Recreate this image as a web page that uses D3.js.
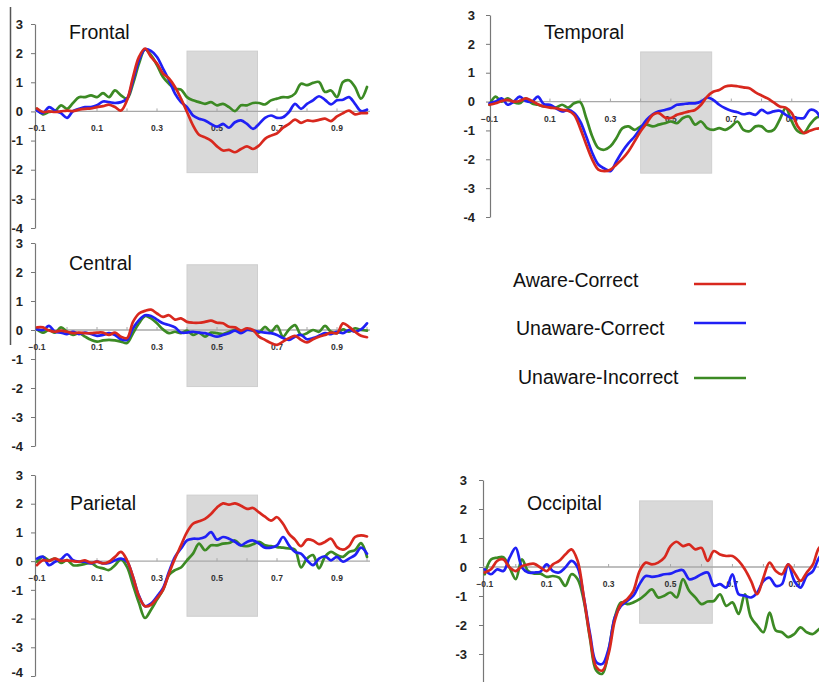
<!DOCTYPE html>
<html><head><meta charset="utf-8">
<script src="https://cdn.jsdelivr.net/npm/d3@7"></script>
<style>body{margin:0;background:#fff}svg{display:block}</style>
</head><body><svg id="c" width="819" height="682"></svg>
<script>
// ---------- data ----------
const times = [-0.1,-0.08,-0.06,-0.04,-0.02,0,0.02,0.04,0.06,0.08,
  0.1,0.12,0.14,0.16,0.18,0.2,0.22,0.24,0.26,0.28,
  0.3,0.32,0.34,0.36,0.38,0.4,0.42,0.44,0.46,0.48,
  0.5,0.52,0.54,0.56,0.58,0.6,0.62,0.64,0.66,0.68,
  0.7,0.72,0.74,0.76,0.78,0.8,0.82,0.84,0.86,0.88,
  0.9,0.92,0.94,0.96,0.98,1.0];
const seriesNames = ["Aware-Correct","Unaware-Correct","Unaware-Incorrect"];
const regionNames = ["Frontal","Temporal","Central","Parietal","Occipital"];
const yTickValues = [3,2,1,0,-1,-2,-3,-4];
const yTickValuesOccipital = [3,2,1,0,-1,-2,-3];
const xTickLabels = [-0.1,0.1,0.3,0.5,0.7,0.9];
const xTickMarks = [0,0.1,0.2,0.3,0.4,0.5,0.6,0.7,0.8,0.9,1.0];
const windowTimes = [0.4, 0.635];
const windowHigh = [2.07, 1.72, 2.25, 2.3, 2.28];
const windowLow  = [-2.1, -2.48, -1.95, -1.92, -1.94];

const frontalAC = [0.1,-0.02,0,-0.02,0,0.03,0.01,0.06,0.09,0.1,
  0.15,0.18,0.23,0.15,0.03,0.38,1.18,1.87,2.16,1.87,
  1.64,1.3,1.13,0.84,0.44,-0.02,-0.48,-0.8,-0.89,-1.0,
  -1.2,-1.34,-1.32,-1.4,-1.29,-1.2,-1.29,-1.17,-0.94,-0.83,
  -0.75,-0.56,-0.43,-0.28,-0.39,-0.31,-0.33,-0.29,-0.25,-0.33,
  -0.17,-0.06,0.03,-0.1,-0.06,-0.06];
const frontalUC = [0.03,-0.06,0.15,0.03,-0.06,-0.22,0.01,0.09,0.15,0.15,
  0.21,0.34,0.32,0.29,0.32,0.44,1.07,1.76,2.13,2.08,
  1.87,1.47,1.07,0.61,0.32,0.15,-0.14,-0.25,-0.31,-0.43,
  -0.52,-0.43,-0.56,-0.37,-0.31,-0.43,-0.6,-0.43,-0.22,-0.14,
  -0.22,-0.2,-0.02,0.26,0.09,0.26,0.38,0.52,0.4,0.24,
  0.38,0.4,0.49,0.26,0.01,0.06];
const frontalUI = [0.09,-0.1,-0.02,0.01,0.21,0.09,0.29,0.49,0.49,0.55,
  0.49,0.63,0.49,0.72,0.55,0.44,0.95,1.64,2.13,1.93,
  1.59,1.18,0.95,0.78,0.75,0.49,0.38,0.32,0.26,0.32,
  0.21,0.26,0.15,0.01,0.21,0.21,0.29,0.29,0.24,0.38,
  0.44,0.49,0.49,0.61,0.95,0.9,0.98,1.01,0.67,0.72,
  0.49,1.01,1.07,0.84,0.44,0.84];

const temporalAC = [-0.11,-0.06,0.02,0.06,0,0.02,0.11,0.02,-0.09,-0.17,
  -0.21,-0.23,-0.29,-0.32,-0.46,-0.92,-1.49,-2.01,-2.36,-2.41,
  -2.36,-2.18,-1.98,-1.72,-1.38,-1.03,-0.75,-0.46,-0.4,-0.55,
  -0.57,-0.46,-0.4,-0.34,-0.29,-0.11,0.17,0.34,0.4,0.52,
  0.55,0.53,0.49,0.46,0.32,0.21,0.11,-0.03,-0.17,-0.21,
  -0.4,-0.86,-1.09,-1.01,-0.94,-0.92];
const temporalUC = [-0.06,0,0.11,-0.11,0,0.17,0.02,0,0.17,-0.09,
  -0.11,-0.23,-0.34,-0.29,-0.4,-0.69,-1.21,-1.78,-2.18,-2.32,
  -2.41,-2.07,-1.72,-1.44,-1.21,-0.92,-0.63,-0.44,-0.34,-0.29,
  -0.23,-0.11,-0.09,-0.06,-0.06,0,0.14,0.06,-0.11,-0.23,
  -0.32,-0.37,-0.44,-0.4,-0.46,-0.29,-0.4,-0.34,-0.32,-0.46,
  -0.57,-0.57,-0.57,-0.29,-0.34,-0.69];
const temporalUI = [-0.11,0.17,0,0.11,-0.02,-0.06,0.11,-0.06,-0.11,-0.17,
  -0.17,-0.21,-0.11,-0.21,-0.06,-0.02,-0.57,-1.21,-1.61,-1.67,
  -1.55,-1.26,-0.92,-0.86,-0.98,-0.86,-0.8,-0.86,-0.8,-0.75,
  -0.69,-0.75,-0.57,-0.52,-0.8,-0.69,-0.92,-0.98,-0.92,-0.98,
  -0.86,-0.69,-0.98,-1.03,-0.86,-0.86,-1.03,-0.98,-0.63,-0.23,
  -0.69,-1.03,-1.09,-0.8,-0.57,-0.52];

const centralAC = [0.09,0.09,-0.02,-0.06,-0.02,-0.06,-0.11,-0.09,-0.11,-0.11,
  -0.09,-0.09,-0.17,-0.09,-0.23,-0.28,0.28,0.57,0.66,0.7,
  0.57,0.45,0.51,0.36,0.4,0.28,0.25,0.25,0.28,0.32,
  0.25,0.23,0.11,0.09,-0.02,0.06,0,-0.23,-0.34,-0.45,
  -0.51,-0.4,-0.28,-0.2,-0.34,-0.43,-0.32,-0.23,-0.17,-0.09,
  -0.11,0.23,0.11,-0.06,-0.2,-0.25];
const centralUC = [0.02,0,0.14,-0.06,-0.09,-0.14,-0.06,-0.14,-0.09,-0.14,
  -0.2,-0.17,-0.11,-0.17,-0.32,-0.34,0.06,0.34,0.51,0.48,
  0.36,0.23,0.17,0.09,-0.09,-0.09,-0.06,-0.09,-0.11,-0.17,
  -0.23,-0.17,-0.11,-0.02,-0.11,0,-0.02,-0.06,-0.09,-0.11,
  -0.17,-0.28,-0.34,-0.23,-0.17,-0.32,-0.28,-0.2,-0.11,-0.14,
  -0.06,-0.11,0,-0.06,0.02,0.23];
const centralUI = [0.02,-0.09,0,-0.09,0.09,-0.06,-0.17,-0.11,-0.23,-0.34,
  -0.4,-0.36,-0.34,-0.36,-0.4,-0.45,-0.11,0.23,0.48,0.4,
  0.23,0.02,-0.11,-0.06,-0.11,-0.02,-0.17,-0.09,-0.23,-0.09,
  -0.11,-0.14,-0.06,0,-0.06,0.02,-0.02,-0.09,0.11,-0.06,
  0.14,-0.23,0.02,0.17,-0.17,-0.11,0,-0.06,0.14,-0.06,
  -0.11,0.02,-0.06,0.06,0,-0.02];

const parietalAC = [-0.14,0.03,0.01,0.09,0.01,0.03,0,-0.02,0.03,-0.06,
  -0.02,-0.08,-0.02,0.15,0.32,0.03,-0.54,-1.23,-1.57,-1.52,
  -1.29,-1.0,-0.43,0.09,0.55,1.01,1.3,1.39,1.47,1.64,
  1.87,2.01,1.97,2.01,1.93,1.82,1.85,1.7,1.55,1.41,
  1.53,1.3,0.95,0.75,0.52,0.75,0.72,0.59,0.67,0.78,
  0.49,0.4,0.52,0.84,0.9,0.86];
const parietalUC = [0.09,0.15,-0.14,-0.02,0.06,0.24,0.03,-0.02,-0.02,-0.08,
  -0.02,-0.08,-0.06,0.03,0.09,-0.02,-0.56,-1.21,-1.57,-1.48,
  -1.23,-0.94,-0.37,0.15,0.44,0.72,0.78,0.78,0.84,1.01,
  0.75,0.84,0.78,0.67,0.55,0.67,0.72,0.61,0.47,0.47,
  0.55,0.84,0.55,0.32,0.26,0.03,-0.14,0.09,0.17,0.03,
  0.15,-0.02,0.09,0.21,0.47,0.26];
const parietalUI = [-0.02,0.15,0.03,0.09,-0.06,0.03,-0.14,-0.14,-0.1,-0.06,
  -0.2,-0.25,-0.31,-0.14,0.06,-0.2,-0.83,-1.46,-1.98,-1.69,
  -1.34,-1.0,-0.48,-0.31,-0.22,0.03,0.26,0.61,0.38,0.55,
  0.55,0.61,0.63,0.72,0.55,0.52,0.59,0.67,0.55,0.52,
  0.49,0.47,0.44,0.4,-0.22,0.09,0.21,-0.25,0.15,0.32,
  0.21,0.15,0.32,0.38,0.63,0.15];

const occipitalAC = [-0.19,-0.08,0.21,0.26,-0.02,-0.14,0.03,0.09,0.11,-0.02,
  -0.14,0.09,0.21,0.43,0.61,0.21,-1.05,-2.42,-3.45,-3.57,
  -2.99,-1.85,-1.28,-1.11,-0.82,-0.14,0.15,0.09,0.15,0.32,
  0.72,0.87,0.72,0.78,0.61,0.66,0.21,0.55,0.43,0.38,
  0.38,0.21,-0.08,-0.48,-0.94,-0.37,0.15,-0.14,-0.25,0.09,
  -0.19,-0.48,-0.19,0.09,0.66,0.78];
const occipitalUC = [-0.08,-0.25,-0.08,-0.14,0.32,0.66,-0.02,-0.19,-0.19,-0.16,
  0.09,-0.14,-0.19,-0.02,0.21,-0.02,-1.05,-2.31,-3.28,-3.34,
  -2.82,-1.74,-1.34,-1.17,-0.99,-0.59,-0.31,-0.34,-0.31,-0.25,
  -0.23,-0.14,-0.11,-0.42,-0.37,-0.25,-0.19,-0.65,-0.59,-0.71,
  -0.25,-0.94,-0.99,-1.05,-0.88,-0.48,-0.37,-0.65,-0.59,0.09,
  -0.48,-0.71,-0.31,-0.14,0.32,0.55];
const occipitalUI = [-0.25,0.26,0.32,0.34,-0.02,-0.42,0.26,-0.14,-0.23,-0.23,
  -0.34,-0.31,-0.37,-0.65,-0.25,-0.42,-1.17,-2.48,-3.57,-3.68,
  -2.88,-1.74,-1.22,-1.28,-1.22,-1.11,-0.94,-0.77,-1.05,-0.99,
  -0.88,-1.05,-0.42,-0.82,-1.05,-1.28,-1.19,-1.17,-0.94,-1.34,
  -1.22,-1.62,-0.94,-1.74,-2.02,-2.25,-1.57,-2.19,-2.25,-2.42,
  -2.31,-2.08,-2.25,-2.31,-2.14,-2.02];

const regionSeries = [
  [frontalAC, frontalUC, frontalUI],
  [temporalAC, temporalUC, temporalUI],
  [centralAC, centralUC, centralUI],
  [parietalAC, parietalUC, parietalUI],
  [occipitalAC, occipitalUC, occipitalUI]
];
const regionYTicks = [yTickValues, yTickValues, yTickValues, yTickValues, yTickValuesOccipital];

// ---------- layout / style ----------
const colors = ["#d8281e", "#2020f5", "#3c8a24"];
const layout = [
  {x0:37,    x1:367,   yTop:24,  yBot:228, axisX:35,  lab:-12, tx:69,  ty:39},
  {x0:489.5, x1:822,   yTop:15,  yBot:217, axisX:490, lab:-15, tx:544, ty:39},
  {x0:37,    x1:367,   yTop:243, yBot:446, axisX:35,  lab:-12, tx:69,  ty:270},
  {x0:37,    x1:367,   yTop:475, yBot:676, axisX:35,  lab:-12, tx:70,  ty:510},
  {x0:484.8, x1:825.3, yTop:480, yBot:683, axisX:483, lab:-16, tx:527, ty:510}
];
const FONT = "'Liberation Sans', Arial, Helvetica, sans-serif";
const svg = d3.select("#c");

// stray vertical rule at the far left of the figure
svg.append("line").attr("x1",10.5).attr("x2",10.5).attr("y1",7).attr("y2",345)
  .attr("stroke","#555").attr("stroke-width",1.5);

regionNames.forEach((name, i) => {
  const L = layout[i];
  const x = d3.scaleLinear().domain([-0.1, 1.0]).range([L.x0, L.x1]);
  const y = d3.scaleLinear().domain([-4, 3]).range([L.yBot, L.yTop]);
  const g = svg.append("g");

  // shaded analysis window
  g.append("rect")
    .attr("x", x(windowTimes[0])).attr("width", x(windowTimes[1]) - x(windowTimes[0]))
    .attr("y", y(windowHigh[i])).attr("height", y(windowLow[i]) - y(windowHigh[i]))
    .attr("fill", "#d9d9d9").attr("stroke", "#cfcfcf").attr("stroke-width", 1);

  // y axis
  const yAxis = d3.axisLeft(y).tickValues(regionYTicks[i]).tickSize(4).tickSizeOuter(0)
    .tickFormat(d3.format("d"));
  const ya = g.append("g").attr("transform", `translate(${L.axisX},0)`).call(yAxis);
  ya.select(".domain").attr("stroke", "#777").attr("stroke-width", 1.2);
  ya.selectAll(".tick line").attr("stroke", "#777");
  ya.selectAll(".tick text").attr("x", L.lab).attr("font-family", FONT)
    .attr("font-size", 13).attr("font-weight", "bold").attr("fill", "#222")
    .attr("dy", d => (y(d) > 670 ? "0.05em" : "0.32em"))
    .text(d => d < 0 ? "-" + Math.abs(d) : d);

  // zero line with ticks
  const zeroY = y(0);
  g.append("line").attr("x1", L.axisX).attr("x2", L.x1 + 3)
    .attr("y1", zeroY).attr("y2", zeroY).attr("stroke", "#a8a8a8").attr("stroke-width", 1.3);
  g.selectAll(".xt").data(xTickMarks).enter().append("line")
    .attr("x1", d => x(d)).attr("x2", d => x(d))
    .attr("y1", zeroY).attr("y2", zeroY - 3).attr("stroke", "#a8a8a8").attr("stroke-width", 1);
  g.selectAll(".xl").data(xTickLabels).enter().append("text")
    .attr("x", d => x(d)).attr("y", zeroY + 20)
    .attr("text-anchor", "middle").attr("font-family", FONT)
    .attr("font-size", 8.5).attr("font-weight", "bold").attr("fill", "#333")
    .text(d => d3.format(".1f")(d));

  // title
  g.append("text").attr("x", L.tx).attr("y", L.ty).attr("font-family", FONT)
    .attr("font-size", 19.5).attr("fill", "#111").text(name);

  // curves (green first, red on top)
  const line = d3.line().x((d, k) => x(times[k])).y(d => y(d))
    .curve(d3.curveCatmullRom.alpha(0.5));
  [2, 1, 0].forEach(s => {
    g.append("path").datum(regionSeries[i][s]).attr("d", line)
      .attr("fill", "none").attr("stroke", colors[s]).attr("stroke-width", 2.7)
      .attr("stroke-linejoin", "round").attr("stroke-linecap", "round");
  });
});

// legend
const legendY = [286.7, 335, 384.3];
const legendX = [513, 516, 518];
const legendLineY = [284, 323, 378];
seriesNames.forEach((n, s) => {
  svg.append("text").attr("x", legendX[s]).attr("y", legendY[s])
    .attr("font-family", FONT).attr("font-size", 19.5).attr("fill", "#111").text(n);
  svg.append("line").attr("x1", 694).attr("x2", 746)
    .attr("y1", legendLineY[s]).attr("y2", legendLineY[s])
    .attr("stroke", colors[s]).attr("stroke-width", 2.6);
});
</script></body></html>
